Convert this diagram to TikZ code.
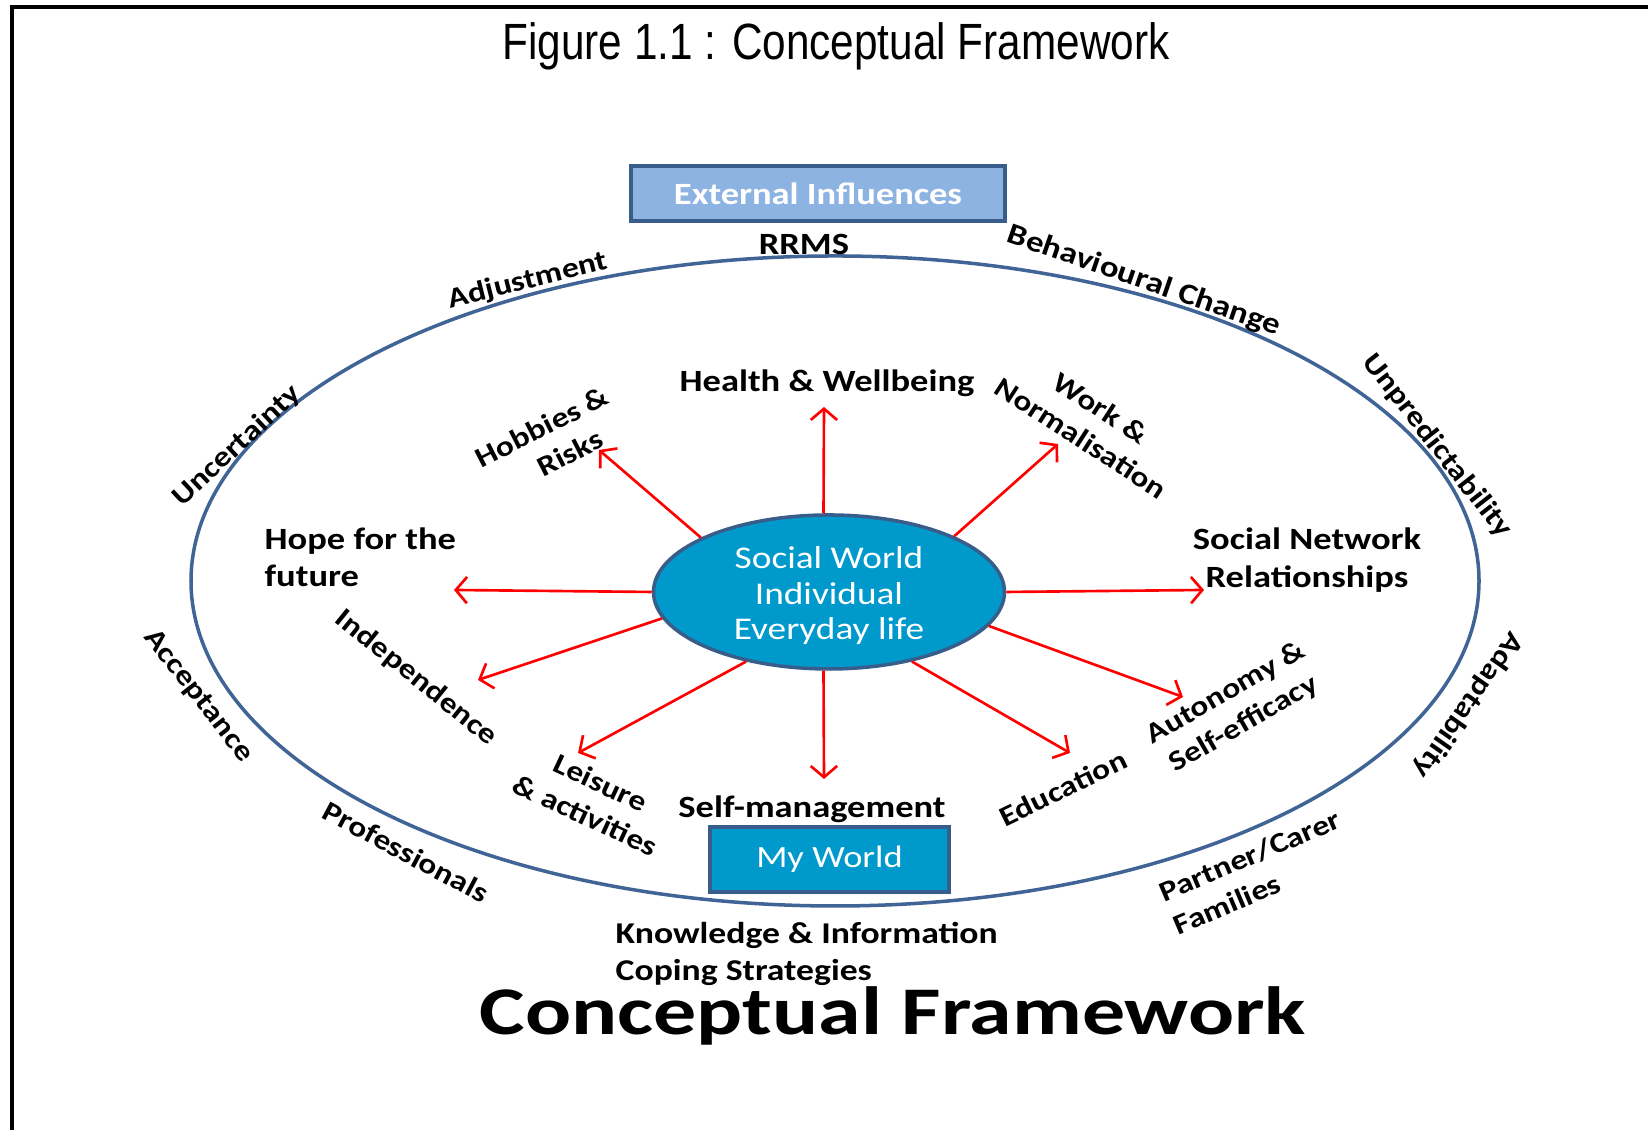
\documentclass[tikz,border=0pt]{standalone}
\usepackage{fontspec}
\usepackage{tikz}
\usetikzlibrary{positioning, shapes.geometric, arrows.meta}
\setmainfont[FakeStretch=1.18]{Carlito}
\newfontfamily\figfont[FakeStretch=0.83]{Liberation Sans}
\newfontfamily\bigfont[FakeStretch=1.26]{Carlito}
\definecolor{soccol}{RGB}{0,153,204}
\definecolor{edgeblue}{RGB}{56,93,138}
\definecolor{extfill}{RGB}{141,179,226}
\definecolor{ringcol}{RGB}{64,100,150}
\tikzset{
    lbl/.style={font=\bfseries\fontsize{8.8}{10.6}\selectfont, align=center, inner sep=0pt},
    rlbl/.style={lbl, font=\bfseries\fontsize{8.1}{10.2}\selectfont},
    arr/.style={draw=red, line width=0.75pt, -{Straight Barb[length=3.2pt, width=7.5pt]}},
    box/.style={draw=edgeblue, line width=1pt, inner sep=0pt},
}

\begin{document}
\begin{tikzpicture}
    \tikzset{
      every node/.append style={text=black},
      white text/.style={text=white}
    }
    \useasboundingbox (0,0) rectangle (16.48,11.30);
    \draw[line width=0.9pt] (0.12,0) -- (0.12,11.23) -- (16.48,11.23);

    \node[font=\figfont\fontsize{14.5}{16}\selectfont] (fig) at (8.36,10.84) {Figure 1.1 : Conceptual Framework};

    \node[ellipse, draw=ringcol, line width=1pt, minimum width=12.88cm, minimum height=6.5cm] (ring) at (8.35,5.49) {};

    \node[box, fill=extfill, minimum width=3.74cm, minimum height=0.55cm, lbl, white text] (ext) at (8.18,9.365) {External Influences};
    \node[box, fill=soccol, minimum width=2.39cm, minimum height=0.65cm, white text, font=\fontsize{8.8}{10.6}\selectfont] (myw) at (8.295,2.705) {My World};

    \node[ellipse, draw=edgeblue, line width=1pt, fill=soccol, inner sep=0pt, minimum width=3.51cm, minimum height=1.54cm] (soc) at (8.29,5.38) {};
    \node[white text, align=center, inner sep=0pt, font=\fontsize{9}{10.1}\selectfont] (soct) at ([yshift=-0.04cm]soc.center) {Social World\\Individual\\Everyday life};

    \coordinate (heaT) at (8.24,7.23);
    \coordinate (hobT) at (5.99,6.80);
    \coordinate (wrkT) at (10.58,6.86);
    \coordinate (hopT) at (4.54,5.40);
    \coordinate (snwT) at (12.04,5.40);
    \coordinate (indT) at (4.78,4.50);
    \coordinate (autT) at (11.83,4.33);
    \coordinate (leiT) at (5.78,3.77);
    \coordinate (slfT) at (8.24,3.51);
    \coordinate (eduT) at (10.70,3.77);

    \draw[arr] (soc.94) -- (heaT);
    \draw[arr] (soc.157) -- (hobT);
    \draw[arr] (soc.24) -- (wrkT);
    \draw[arr] (soc.180) -- (hopT);
    \draw[arr] (soc.0) -- (snwT);
    \draw[arr] (soc.189) -- (indT);
    \draw[arr] (soc.348) -- (autT);
    \draw[arr] (soc.220) -- (leiT);
    \draw[arr] (soc.266) -- (slfT);
    \draw[arr] (soc.320) -- (eduT);

    \node[lbl] (hea) at (8.27,7.47) {Health \& Wellbeing};
    \node[rlbl, rotate=27] (hob) at (5.50,6.87) {Hobbies \&\\\hspace*{0.27cm}Risks};
    \node[rlbl, rotate=-33] (wrk) at (10.91,7.07) {Work \&\\Normalisation};
    \node[lbl, align=left, anchor=west] (hop) at (2.64,5.73) {Hope for the\\future};
    \node[lbl] (snw) at (13.07,5.70) {Social Network\\Relationships};
    \node[rlbl, rotate=-39] (ind) at (4.16,4.52) {Independence};
    \node[rlbl, rotate=30] (aut) at (12.35,4.21) {Autonomy \&\\Self-efficacy};
    \node[rlbl, rotate=-25] (lei) at (5.93,3.31) {Leisure\\\& activities};
    \node[lbl] (slf) at (8.12,3.21) {Self-management};
    \node[rlbl, rotate=26] (edu) at (10.63,3.42) {Education};

    \node[lbl] (rrms) at (8.04,8.86) {RRMS};
    \node[rlbl, rotate=14] (adj) at (5.28,8.49) {Adjustment};
    \node[rlbl, rotate=-19, font=\bfseries\fontsize{8.4}{10.2}\selectfont] (beh) at (11.44,8.49) {Behavioural Change};
    \node[rlbl, rotate=-52] (unp) at (14.37,6.84) {Unpredictability};
    \node[rlbl, rotate=43] (unc) at (2.37,6.84) {Uncertainty};
    \node[rlbl, rotate=-52] (acc) at (1.98,4.34) {Acceptance};
    \node[rlbl, rotate=-125] (ada) at (14.68,4.25) {Adaptability};
    \node[rlbl, rotate=-28] (pro) at (4.06,2.78) {Professionals};
    \node[rlbl, rotate=23, align=left] (par) at (12.57,2.58) {Partner/Carer\\Families};
    \node[lbl, align=left, anchor=west, font=\bfseries\fontsize{8.6}{10.6}\selectfont] (kno) at (6.15,1.76) {Knowledge \& Information\\Coping Strategies};

    \node[font=\bigfont\bfseries\fontsize{19.4}{22}\selectfont] (cf) at (8.93,1.14) {Conceptual Framework};
\end{tikzpicture}
\end{document}
